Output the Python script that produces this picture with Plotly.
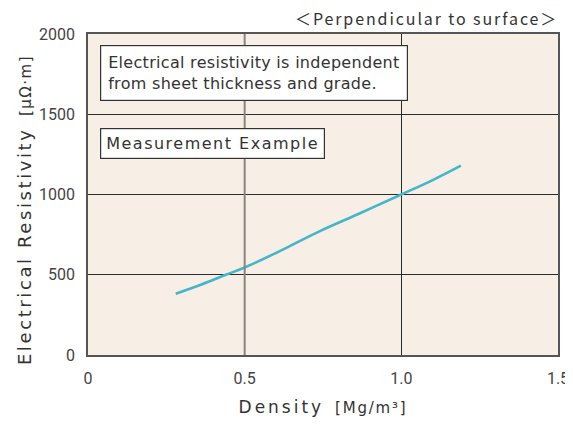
import plotly.graph_objects as go

# Density [Mg/m3] vs electrical resistivity [μΩ·m]
density = [0.28, 0.36, 0.44, 0.50, 0.62, 0.74, 0.87, 1.00, 1.10, 1.19]
resistivity = [382, 438, 500, 545, 655, 772, 885, 1000, 1090, 1180]

x_ticks = [0, 0.5, 1.0, 1.5]
x_tick_text = ["0", "0.5", "1.0", "1.5"]
y_ticks = [0, 500, 1000, 1500, 2000]
y_tick_text = ["0", "500", "1000", "1500", "2000"]

BG = "#F7EEE5"
GRID = "#2b2b2b"
LINE = "#45B5C9"
TEXT = "#333333"
FONT = "DejaVu Sans"
CJK_FONT = "Noto Sans CJK JP"
TICK_FONT = "Roboto, sans-serif"


def spaced(s, px, size=None):
    style = f"letter-spacing:{px}px"
    if size:
        style = f"font-size:{size}px;" + style
    return f"<span style='{style}'>{s}</span>"


fig = go.Figure()

fig.add_trace(go.Scatter(
    x=density, y=resistivity,
    mode="lines",
    line=dict(color=LINE, width=2.6, shape="spline"),
    showlegend=False,
))

# the 0.5 gridline is lighter in the reference
fig.add_vline(x=0.5, line=dict(color="#8a8580", width=2), layer="above")

fig.add_annotation(
    x=0.038, y=1930, xref="x", yref="y", xanchor="left", yanchor="top",
    text=spaced("Electrical resistivity is independent", 0.3) + "<br>"
    + spaced("from sheet thickness and grade.", 0.3),
    align="left", showarrow=False,
    font=dict(size=16, color=TEXT, family=FONT),
    bgcolor="white", bordercolor="#333333", borderwidth=1.2, borderpad=7,
)
fig.add_annotation(
    x=0.038, y=1414, xref="x", yref="y", xanchor="left", yanchor="top",
    text=spaced("Measurement Example", 1.5),
    align="left", showarrow=False,
    font=dict(size=16, color=TEXT, family=FONT),
    bgcolor="white", bordercolor="#333333", borderwidth=1.2, borderpad=5,
)
fig.add_annotation(
    x=1.0, y=1.0, xref="paper", yref="paper", xanchor="right", yanchor="bottom",
    yshift=2, xshift=2,
    text=spaced("＜Perpendicular to surface＞", 1.9),
    showarrow=False,
    font=dict(size=16, color=TEXT, family=CJK_FONT),
)

# y-axis title, placed by hand because it sits a little below the plot centre
fig.add_annotation(
    x=-0.135, y=0.45, xref="paper", yref="paper", xanchor="center", yanchor="middle",
    textangle=-90,
    text=spaced("Electrical Resistivity", 2.6) + "  " + spaced("[μΩ·m]", 1.5, 15),
    showarrow=False,
    font=dict(size=18, color=TEXT, family=FONT),
)

# the page body adds an 8 px offset, so the figure is sized to fit inside it
fig.update_layout(
    width=565, height=419,
    margin=dict(l=80, r=15, t=26, b=72, autoexpand=False),
    paper_bgcolor="white",
    plot_bgcolor=BG,
    font=dict(family=FONT, color=TEXT),
    xaxis=dict(
        range=[0, 1.5], tickvals=x_ticks, ticktext=x_tick_text,
        showgrid=True, gridcolor=GRID, gridwidth=1.2, automargin=False,
        zeroline=False, showline=True, linecolor="#555555", linewidth=1.5, mirror=True,
        ticks="", ticklabelstandoff=8,
        tickfont=dict(size=16, color="#444444", family=TICK_FONT),
        title=dict(text=spaced("Density", 3) + "  " + spaced("[Mg/m³]", 1.8, 15),
                   font=dict(size=17, color=TEXT), standoff=14),
    ),
    yaxis=dict(
        range=[0, 2000], tickvals=y_ticks, ticktext=y_tick_text,
        showgrid=True, gridcolor=GRID, gridwidth=1.2, automargin=False,
        zeroline=False, showline=True, linecolor="#555555", linewidth=1.5, mirror=True,
        ticks="", ticklabelstandoff=8,
        tickfont=dict(size=16, color="#444444", family=TICK_FONT),
    ),
)

fig.write_html("out.html")
